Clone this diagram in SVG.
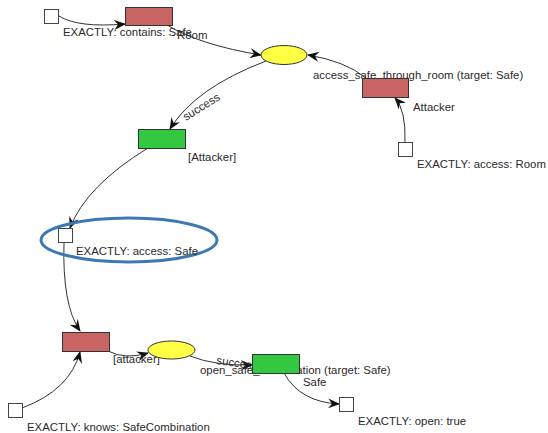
<svg xmlns="http://www.w3.org/2000/svg" width="548" height="433" viewBox="0 0 548 433">
<style>
text{font-family:"Liberation Sans",Arial,sans-serif;font-size:11.4px;fill:#2a2a2a}
.e{fill:none;stroke:#333;stroke-width:1}
.sq{fill:#fff;stroke:#444;stroke-width:1}
.red{fill:#c86464;stroke:#333;stroke-width:1}
.grn{fill:#33c840;stroke:#333;stroke-width:1}
.yel{fill:#ffff44;stroke:#333;stroke-width:1}
</style>
<defs>
<marker id="a" viewBox="0 0 12 10" refX="11" refY="5" markerWidth="12" markerHeight="10" markerUnits="userSpaceOnUse" orient="auto">
<path d="M0,0 L12,5 L0,10 L4,5 z" fill="#111"/>
</marker>
</defs>
<rect width="548" height="433" fill="#fff"/>
<g id="connectors">
<path class="e" marker-end="url(#a)" d="M59,16 Q78,28 125,24"/>
<path class="e" marker-end="url(#a)" d="M167,25 Q200,45 261,55"/>
<path class="e" marker-end="url(#a)" d="M366,78 Q345,61 308,55"/>
<path class="e" marker-end="url(#a)" d="M405,142 Q406,110 395,98"/>
<path class="e" marker-end="url(#a)" d="M266,61 Q195,88 170,129"/>
<path class="e" marker-end="url(#a)" d="M148,148 Q86,186 70,228"/>
<path class="e" marker-end="url(#a)" d="M64,242 Q62,305 80,331"/>
<path class="e" marker-end="url(#a)" d="M22,408 Q70,390 80,352"/>
<path class="e" marker-end="url(#a)" d="M108,351 Q125,360 148,353"/>
<path class="e" marker-end="url(#a)" d="M190,356 Q215,366 252,365"/>
<path class="e" marker-end="url(#a)" d="M284,373 Q300,402 339,404"/>
<text x="177" y="39">Room</text>
<text x="186" y="121" transform="rotate(-32 186 121)">success</text>
<text x="413" y="111">Attacker</text>
<text x="113" y="363">[attacker]</text>
<text x="216" y="364" transform="rotate(8 216 364)">success</text>
<text x="303" y="386">Safe</text>
</g>
<g id="n_sq_contains">
<rect class="sq" x="44.5" y="9.5" width="14" height="14"/>
<text x="63" y="36">EXACTLY: contains: Safe</text>
</g>
<g id="n_sq_room">
<rect class="sq" x="398.5" y="142.5" width="14" height="14"/>
<text x="417" y="168">EXACTLY: access: Room</text>
</g>
<g id="n_sq_safe">
<ellipse cx="129" cy="240" rx="88" ry="22" fill="none" stroke="#3b78b4" stroke-width="3"/>
<rect class="sq" x="58.5" y="228.5" width="14" height="14"/>
<text x="76" y="255">EXACTLY: access: Safe</text>
</g>
<g id="n_sq_knows">
<rect class="sq" x="8.5" y="403.5" width="14" height="14"/>
<text x="27" y="431">EXACTLY: knows: SafeCombination</text>
</g>
<g id="n_sq_open">
<rect class="sq" x="339.5" y="397.5" width="14" height="14"/>
<text x="358" y="425">EXACTLY: open: true</text>
</g>
<g id="n_yel1">
<ellipse class="yel" cx="284" cy="55" rx="23" ry="9.5"/>
</g>
<g id="n_yel2">
<ellipse class="yel" cx="171.5" cy="350" rx="23.5" ry="9"/>
</g>
<g id="n_red1">
<rect class="red" x="125.5" y="7.5" width="47" height="18"/>
</g>
<g id="n_red2">
<text x="313" y="79">access_safe_through_room (target: Safe)</text>
<rect class="red" x="362.5" y="78.5" width="46" height="19"/>
</g>
<g id="n_grn1">
<rect class="grn" x="138.5" y="129.5" width="47" height="19"/>
<text x="188" y="161">[Attacker]</text>
</g>
<g id="n_red3">
<rect class="red" x="62.5" y="332.5" width="47" height="19"/>
</g>
<g id="n_grn2">
<text x="200" y="374">open_safe_combination (target: Safe)</text>
<rect class="grn" x="252.5" y="354.5" width="47" height="19"/>
</g>
</svg>
